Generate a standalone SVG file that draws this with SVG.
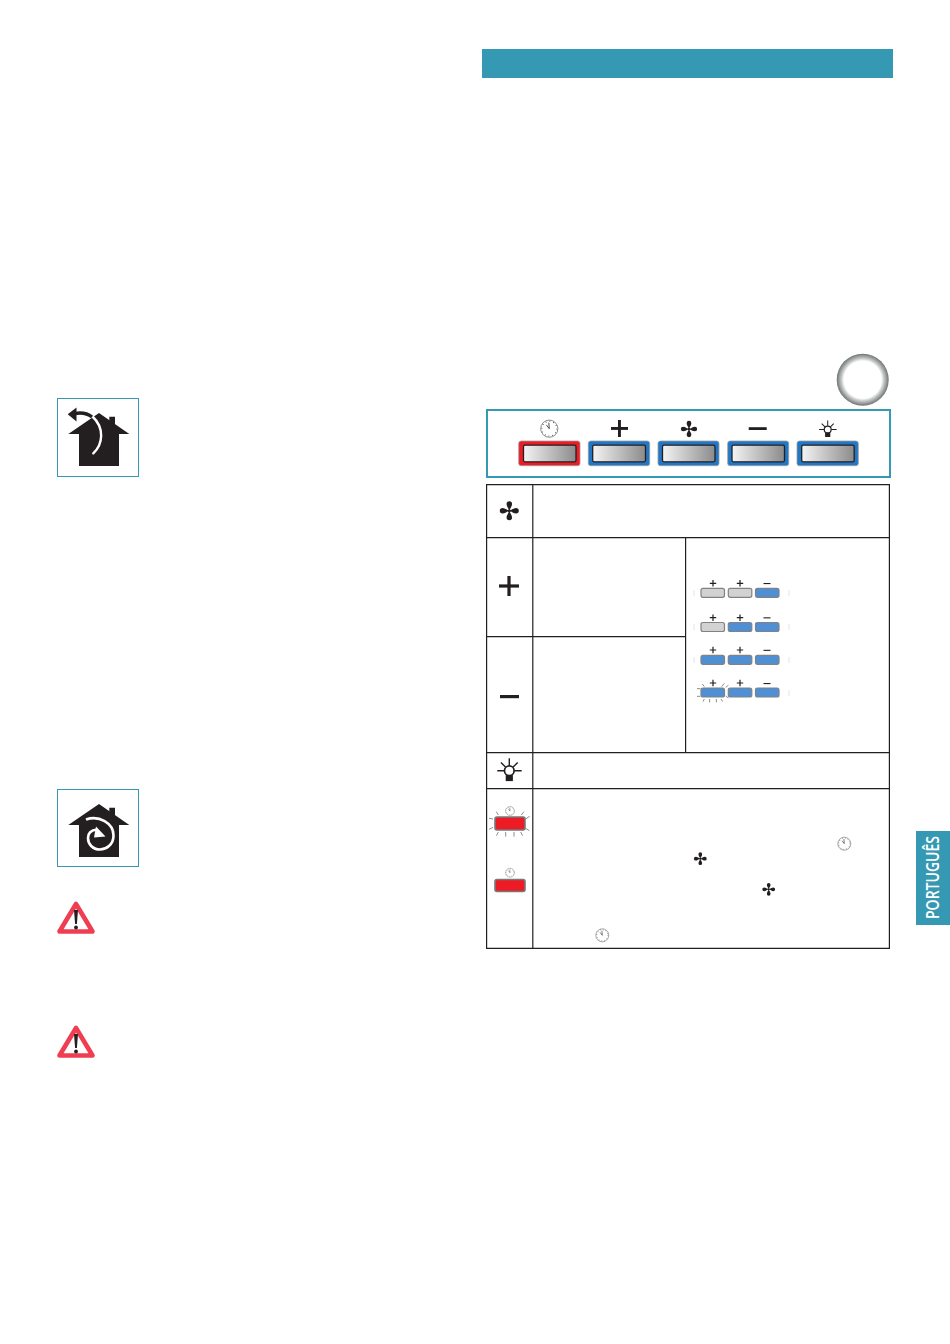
<svg xmlns="http://www.w3.org/2000/svg" xmlns:xlink="http://www.w3.org/1999/xlink" width="950" height="1344" viewBox="0 0 950 1344">
<style>
.teal{fill:#3699b3}
.frame{fill:#fff;stroke:#3699b3;stroke-width:1}
.ink{fill:#231f20}
.cell{fill:none;stroke:#231f20;stroke-width:1.2}
.bar{fill:#231f20}
.btn{stroke:#9a9ea3;stroke-width:.8}
.blue{fill:#2277c4}
.red{fill:#ed1c24}
.inner{fill:url(#metal);stroke:#231f20;stroke-width:1.3}
.sb{fill:#4f8fd4;stroke:#808285;stroke-width:1.2}
.sg{fill:#d2d2d2;stroke:#808285;stroke-width:1.2}
.sr{fill:#ed1c24;stroke:#77787b;stroke-width:1.6}
.tick{stroke:#555;stroke-width:2;fill:none}
.faint{stroke:#e4e4e4;stroke-width:1;fill:none}
</style>
<defs>
<linearGradient id="metal" x1="0" x2="1" y1="0" y2="0"><stop offset="0" stop-color="#f4f4f4"/><stop offset="1" stop-color="#8b8b8b"/></linearGradient>
<radialGradient id="ring" cx=".5" cy=".5" r=".5"><stop offset=".72" stop-color="#fff"/><stop offset=".8" stop-color="#d0d2d2"/><stop offset="1" stop-color="#6f7373"/></radialGradient>
<path id="blade" d="M0,0C-.8,-2.5 -2.8,-4.5 -2.8,-6.9A2.8,2.8 0 0 1 2.8,-6.9C2.8,-4.5 .8,-2.5 0,0Z"/>
<g id="fan" class="ink"><use xlink:href="#blade"/><use xlink:href="#blade" transform="rotate(90)"/><use xlink:href="#blade" transform="rotate(180)"/><use xlink:href="#blade" transform="rotate(270)"/><circle r="1.6"/></g>
<g id="clock"><circle r="10" fill="#fff" stroke="#58595b" stroke-width=".8"/><circle r="8.6" fill="none" stroke="#231f20" stroke-width="1.2" stroke-dasharray=".8 3.7"/><path d="M0,0L-.6,-7M0,0L-3.5,-4.5" stroke="#231f20" stroke-width=".9" fill="none"/></g>
<g id="bulb"><circle r="4.8" fill="#fff" stroke="#231f20" stroke-width="1.7"/><rect x="-3.6" y="4.4" width="7.2" height="6" class="ink"/><path d="M-12,0H-5M5,0H12.4M0,-12.4V-5.2M-8.4,-8.2L-3.8,-3.8M8.4,-8.2L3.8,-3.8" stroke="#231f20" stroke-width="1.4" fill="none"/></g>
<path id="sbtn" d="M2,0H21.5Q23.5,0 23.5,2V7Q23.5,9 21.5,9H2Q0,9 0,7V2Q0,0 2,0Z"/>
<path id="sp" d="M-3.2,-.6H-.6V-3.2H.6V-.6H3.2V.6H.6V3.2H-.6V.6H-3.2Z" class="ink"/>
<g id="warn"><path d="M19,3.5L35.5,31H2.5Z" fill="#fff" stroke="#ef3e51" stroke-width="4.6" stroke-linejoin="round"/><path d="M17,9.5H21L19.9,23.5H18.1Z" class="ink"/><circle cx="19" cy="27" r="1.9" class="ink"/></g>
<g id="house" class="ink"><path d="M99,0L129.3,21H119V53H79V21H68.3Z"/><path d="M109.3,10V3.7H115V14Z"/></g>
</defs>
<rect width="950" height="1344" fill="#fff"/>

<rect id="banner" class="teal" x="482" y="49" width="411" height="29"/>
<circle id="ring-mark" cx="862.7" cy="379.7" r="26" fill="url(#ring)"/>

<g id="control-panel">
<rect x="487" y="410" width="403" height="67" fill="#fff" stroke="#3699b3" stroke-width="2"/>
<use xlink:href="#clock" transform="translate(549.3 428.7) scale(.86)"/>
<rect class="bar" x="611" y="427" width="17" height="2.9"/><rect class="bar" x="618" y="420" width="2.9" height="17"/>
<use xlink:href="#fan" transform="translate(689 429) scale(.84)"/>
<rect class="bar" x="748.7" y="427.2" width="18" height="2.8"/>
<use xlink:href="#bulb" transform="translate(827.7 429.5) scale(.72)"/>
<g id="btn-timer"><rect class="btn red" x="518.7" y="441" width="61.3" height="24.7" rx="2.5"/><rect class="inner" x="523.5" y="445.2" width="52.5" height="16.6" rx="1.5"/></g>
<g id="btn-plus"><rect class="btn blue" x="588.3" y="441" width="61.4" height="24.7" rx="2.5"/><rect class="inner" x="592.7" y="445.2" width="52.8" height="16.6" rx="1.5"/></g>
<g id="btn-fan"><rect class="btn blue" x="658" y="441" width="61" height="24.7" rx="2.5"/><rect class="inner" x="662.5" y="445.2" width="52.5" height="16.6" rx="1.5"/></g>
<g id="btn-minus"><rect class="btn blue" x="727.7" y="441" width="61" height="24.7" rx="2.5"/><rect class="inner" x="732" y="445.2" width="52.5" height="16.6" rx="1.5"/></g>
<g id="btn-light"><rect class="btn blue" x="797" y="441" width="61.3" height="24.7" rx="2.5"/><rect class="inner" x="801.7" y="445.2" width="52.5" height="16.6" rx="1.5"/></g>
</g>

<g id="function-table">
<path class="cell" d="M486.6,484.6H889.4V948.4H486.6ZM486.6,537.6H889.4M486.6,636.6H685.6M486.6,752.6H889.4M486.6,788.6H889.4M532.8,484.6V948.4M685.6,537.6V752.6"/>
<use xlink:href="#fan" transform="translate(509.3 510.8) scale(.98)"/>
<rect class="bar" x="499" y="584.4" width="20" height="3.2"/><rect class="bar" x="507.4" y="576" width="3.2" height="20"/>
<rect class="bar" x="500" y="695" width="19" height="3.2"/>
<use xlink:href="#bulb" transform="translate(509.3 770.7)"/>
</g>

<g id="speed-levels">
<g id="speed-1"><use xlink:href="#sp" x="713" y="583.3"/><use xlink:href="#sp" x="740" y="583.3"/><rect class="bar" x="763.5" y="583" width="7" height="1.1"/>
<use xlink:href="#sbtn" class="sg" x="701" y="588.3"/><use xlink:href="#sbtn" class="sg" x="728.3" y="588.3"/><use xlink:href="#sbtn" class="sb" x="755.5" y="588.3"/></g>
<g id="speed-2"><use xlink:href="#sp" x="713" y="617.7"/><use xlink:href="#sp" x="740" y="617.7"/><rect class="bar" x="763.5" y="617.3" width="7" height="1.1"/>
<use xlink:href="#sbtn" class="sg" x="701" y="622.5"/><use xlink:href="#sbtn" class="sb" x="728.3" y="622.5"/><use xlink:href="#sbtn" class="sb" x="755.5" y="622.5"/></g>
<g id="speed-3"><use xlink:href="#sp" x="713" y="650"/><use xlink:href="#sp" x="740" y="650"/><rect class="bar" x="763.5" y="649.8" width="7" height="1.1"/>
<use xlink:href="#sbtn" class="sb" x="701" y="655.3"/><use xlink:href="#sbtn" class="sb" x="728.3" y="655.3"/><use xlink:href="#sbtn" class="sb" x="755.5" y="655.3"/></g>
<g id="speed-4"><use xlink:href="#sp" x="713" y="683"/><use xlink:href="#sp" x="740" y="683"/><rect class="bar" x="763.5" y="683" width="7" height="1.1"/>
<use xlink:href="#sbtn" class="sb" x="701" y="688"/><use xlink:href="#sbtn" class="sb" x="728.3" y="688"/><use xlink:href="#sbtn" class="sb" x="755.5" y="688"/>
<path transform="translate(685 570) scale(.3333)" class="tick" d="M52,342L58,350M118,340L110,350M36,356H46M36,379H46M122,352L130,346M122,378L130,384M54,395L58,387M74,397V387M94,387V397M108,387L113,395"/></g>
<path class="faint" d="M694,590V596M789,590V596M694,624V630M789,624V630M694,657V663M789,657V663M789,690V696"/>
</g>

<g id="timer-icons">
<use xlink:href="#clock" transform="translate(510 811) scale(.45)"/>
<rect class="sr" x="495" y="817" width="30" height="13" rx="2"/>
<path transform="translate(484 750) scale(.3333)" class="tick" d="M37,185L43,195M120,185L112,195M15,205L27,207M125,207L137,199M15,238L27,232M125,235L136,242M37,257L43,246M65,260V246M90,246V260M110,246L116,257"/>
<use xlink:href="#clock" transform="translate(510 872.7) scale(.45)"/>
<rect class="sr" x="495" y="879.5" width="30" height="12" rx="2"/>
<use xlink:href="#clock" transform="translate(844.3 843.7) scale(.65)"/>
<use xlink:href="#fan" transform="translate(700.3 858.7) scale(.66)"/>
<use xlink:href="#fan" transform="translate(768.7 889.3) scale(.66)"/>
<use xlink:href="#clock" transform="translate(602.3 935.3) scale(.65)"/>
</g>

<g id="extraction-icon">
<rect class="frame" x="57.5" y="398.5" width="81" height="78"/>
<use xlink:href="#house" y="413"/>
<path d="M93.3,453.3C103,444 105,428 92,416" fill="none" stroke="#fff" stroke-width="2.4" stroke-linecap="round"/>
<path d="M88,412C86,416 84,416 80,415" fill="none" stroke="#fff" stroke-width="3"/>
<path d="M75,413.5C81,412.5 87,413 92,417" fill="none" stroke="#231f20" stroke-width="3.4"/>
<path d="M67.7,414.3L76.5,407.5V421.5Z" class="ink"/>
</g>

<g id="recirculation-icon">
<rect class="frame" x="57.5" y="789.5" width="81" height="77"/>
<use xlink:href="#house" y="804"/>
<path d="M86,819.5C99,815 113.5,823 113.5,835.5C113.5,845 106,849.5 100,849.5C92.5,849.5 88,844 88,838C88,832.5 92,830 97,829.5" fill="none" stroke="#fff" stroke-width="2.6"/>
<path d="M96,826.5L105.5,836.5L94,837.5Z" fill="#fff"/>
</g>

<use id="warning-1" xlink:href="#warn" transform="translate(57 900.5)"/>
<use id="warning-2" xlink:href="#warn" transform="translate(57 1024.5)"/>

<g id="language-tab">
<rect class="teal" x="916" y="831" width="34" height="94"/>
<text transform="translate(938.5 919) rotate(-90)" font-family="'Open Sans','Liberation Sans',sans-serif" font-size="18" font-weight="600" fill="#fff" textLength="83" lengthAdjust="spacingAndGlyphs">PORTUGUÊS</text>
</g>
</svg>
